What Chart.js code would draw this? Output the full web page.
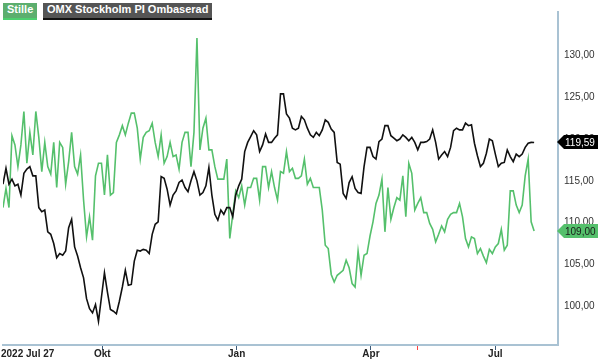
<!DOCTYPE html>
<html>
<head>
<meta charset="utf-8">
<script src="https://cdn.jsdelivr.net/npm/chart.js@4/dist/chart.umd.min.js"></script>
<style>
  html, body { margin: 0; padding: 0; background: #fff; }
  #wrap { position: relative; width: 600px; height: 361px; }
  canvas { position: absolute; left: 0; top: 0; }
  .leg { position: absolute; top: 3px; height: 15px; line-height: 15px; font: bold 11px "Liberation Sans", Arial, sans-serif; color: #fff; padding: 0 4px; box-sizing: border-box; }
  #l1 { left: 3px; background: #5cae6e; border-bottom: 2px solid #4ccf6e; height: 17px; }
  #l2 { left: 43px; background: #555; border-bottom: 2px solid #111; height: 17px; }
</style>
</head>
<body>
<div id="wrap">
  <canvas id="c" width="600" height="361"></canvas>
  <div class="leg" id="l1">Stille</div>
  <div class="leg" id="l2">OMX Stockholm PI Ombaserad</div>
</div>
<script>
// Series names
const seriesNames = ['Stille', 'OMX Stockholm PI Ombaserad'];

// Stille (green) values, one per sampling step from 2022 Jul 27
const stille = [
 111.8,114.1,111.8,120.4,119.3,116.7,119.3,123.3,117.1,120.8,
 118.1,123.3,120.2,116.1,119.6,116.7,115.8,119.6,114.2,119.6,
 119.0,114.6,117.3,120.8,116.7,115.8,118.1,112.7,108.3,110.7,
 107.9,115.6,117.1,117.1,113.3,118.1,113.3,113.6,119.6,120.5,
 121.6,120.5,121.9,123.1,123.1,121.3,117.6,120.2,120.8,121.0,
 121.9,119.6,117.9,120.5,117.1,117.9,119.6,117.9,118.1,116.4,
 119.6,120.8,120.8,116.7,120.8,132.1,118.7,121.3,122.5,118.7,
 118.7,116.7,115.2,115.2,115.2,117.6,108.1,111.0,113.8,113.0,
 114.4,112.1,114.2,114.2,115.3,115.3,112.7,116.7,116.7,114.2,
 116.1,114.2,112.7,116.1,115.9,118.5,116.1,116.5,115.3,115.3,
 115.6,117.6,114.6,115.3,114.2,114.2,114.2,111.5,107.3,106.9,
 103.8,102.9,103.7,104.0,104.3,105.5,104.6,102.7,102.3,106.6,
 103.7,106.1,106.3,108.4,110.1,112.3,113.3,115.2,108.9,114.2,
 110.4,111.8,113.0,112.7,115.6,110.7,117.1,115.9,111.5,112.3,
 113.0,111.2,111.2,109.9,109.2,107.7,108.6,109.6,108.9,110.4,
 111.0,111.2,111.2,112.3,110.7,108.1,107.1,108.3,108.1,106.3,
 106.9,106.0,105.2,106.8,106.3,107.1,107.5,109.2,106.7,107.3,
 113.8,113.8,112.1,111.2,112.1,115.6,117.6,110.1,109.0
];

// OMX Stockholm PI Ombaserad (black) values, same sampling
const omx = [
 114.6,116.5,114.6,115.2,114.4,114.6,113.3,115.9,116.4,116.7,
 115.6,115.6,111.8,111.3,111.5,108.9,108.6,107.5,105.8,106.3,
 106.1,106.6,109.4,110.4,107.1,106.0,104.6,103.4,100.9,99.7,
 99.2,100.2,98.2,101.1,104.0,101.7,99.6,99.4,99.1,100.6,
 102.3,104.3,102.5,102.6,105.4,106.7,106.6,106.8,106.7,106.3,
 108.6,109.8,110.1,115.5,115.3,114.0,112.1,113.3,113.8,114.8,
 115.1,114.2,113.7,115.0,116.1,115.0,113.3,113.6,114.4,116.6,
 113.3,111.0,110.3,111.5,111.0,111.8,111.8,110.7,113.3,114.4,
 115.2,118.5,119.6,120.3,121.0,120.5,118.5,119.3,120.6,119.6,
 119.6,120.1,120.5,125.4,125.4,123.0,122.5,121.3,121.1,121.3,
 122.7,122.3,121.3,120.5,120.2,120.8,120.4,121.1,122.3,122.0,
 121.2,120.8,117.2,117.0,113.5,112.9,114.8,115.5,114.1,113.6,
 113.5,116.7,119.0,119.0,117.9,117.6,119.7,120.0,121.6,121.6,
 120.4,120.1,119.8,120.0,120.5,120.2,119.8,120.2,119.6,118.7,
 119.6,119.6,119.7,120.0,121.1,119.6,117.6,118.1,118.5,117.9,
 119.0,121.0,121.3,121.1,121.1,121.9,121.6,121.7,119.5,118.0,
 116.7,117.1,118.3,120.0,119.8,118.2,116.7,117.1,117.2,118.7,
 117.9,117.3,118.2,117.9,118.2,119.0,119.5,119.6,119.59
];

// X tick labels and their positions on the sample index
const xTickLabels = ['2022 Jul 27', 'Okt', 'Jan', 'Apr', '', 'Jul'];
const xTickIndex  = [0, 33.3, 78.3, 123.3, 139, 165];
const xMax = 186;

// Y axis ticks
const yTicks = [100, 105, 110, 115, 120, 125, 130];
const yMin = 95.36, yMax = 135.2;

const GREEN = '#55c06c';
const fmt = v => v.toFixed(2).replace('.', ',');

const lastLabels = {
  id: 'lastLabels',
  afterDraw(chart) {
    const ctx = chart.ctx;
    const ys = chart.scales.y;
    const xs = chart.scales.x;
    const right = chart.chartArea.right;
    // x labels
    ctx.save();
    ctx.font = 'bold 10px "Liberation Sans", Arial, sans-serif';
    ctx.fillStyle = '#222';
    ctx.textBaseline = 'middle';
    xTickLabels.forEach((lab, i) => {
      if (!lab) return;
      const px = xs.getPixelForValue(xTickIndex[i]);
      ctx.textAlign = i === 0 ? 'left' : 'center';
      ctx.fillText(lab, i === 0 ? 1 : px, 354);
    });
    ctx.restore();
    // last value labels
    const items = [
      { v: stille[stille.length - 1], bg: GREEN, fg: '#1a1a1a' },
      { v: omx[omx.length - 1], bg: '#000', fg: '#fff' }
    ];
    items.forEach(it => {
      const y = Math.round(ys.getPixelForValue(it.v));
      ctx.save();
      ctx.fillStyle = it.bg;
      ctx.beginPath();
      ctx.moveTo(right - 1, y);
      ctx.lineTo(right + 6, y - 7);
      ctx.lineTo(598, y - 7);
      ctx.lineTo(598, y + 7);
      ctx.lineTo(right + 6, y + 7);
      ctx.closePath();
      ctx.fill();
      ctx.fillStyle = it.fg;
      ctx.font = '10px "Liberation Sans", Arial, sans-serif';
      ctx.textAlign = 'left';
      ctx.textBaseline = 'middle';
      ctx.fillText(fmt(it.v), right + 7, y + 1);
      ctx.restore();
    });
  }
};

new Chart(document.getElementById('c'), {
  type: 'line',
  data: {
    datasets: [
      { label: seriesNames[1], data: omx.map((v, i) => ({ x: i, y: v })), borderColor: '#111', borderWidth: 1.6, pointRadius: 0, tension: 0 },
      { label: seriesNames[0], data: stille.map((v, i) => ({ x: i, y: v })), borderColor: GREEN, borderWidth: 1.6, pointRadius: 0, tension: 0 }
    ]
  },
  options: {
    responsive: false,
    animation: false,
    devicePixelRatio: 1,
    layout: { padding: 0 },
    plugins: { legend: { display: false }, tooltip: { enabled: false } },
    scales: {
      x: {
        type: 'linear', min: 0, max: xMax,
        afterBuildTicks: s => { s.ticks = xTickIndex.map(v => ({ value: v })); },
        afterFit: s => { s.height = 16; },
        grid: {
          drawOnChartArea: false, drawTicks: true, tickLength: 5, lineWidth: 1,
          color: c => c.index === 0 ? 'rgba(0,0,0,0)' : (xTickLabels[c.index] === '' ? '#ff4040' : '#3d5a78')
        },
        border: { color: '#a9c2d3', width: 2 },
        ticks: { display: true, callback: () => '', autoSkip: false, maxRotation: 0 }
      },
      y: {
        position: 'right', min: yMin, max: yMax,
        afterBuildTicks: s => { s.ticks = yTicks.map(v => ({ value: v })); },
        afterFit: s => { s.width = 42; },
        grid: { drawOnChartArea: false, drawTicks: false },
        border: { color: '#a9c2d3', width: 2 },
        ticks: {
          padding: 6, color: '#333',
          font: { family: '"Liberation Sans", Arial, sans-serif', size: 10 },
          callback: v => fmt(v)
        }
      }
    }
  },
  plugins: [lastLabels]
});
</script>
</body>
</html>
